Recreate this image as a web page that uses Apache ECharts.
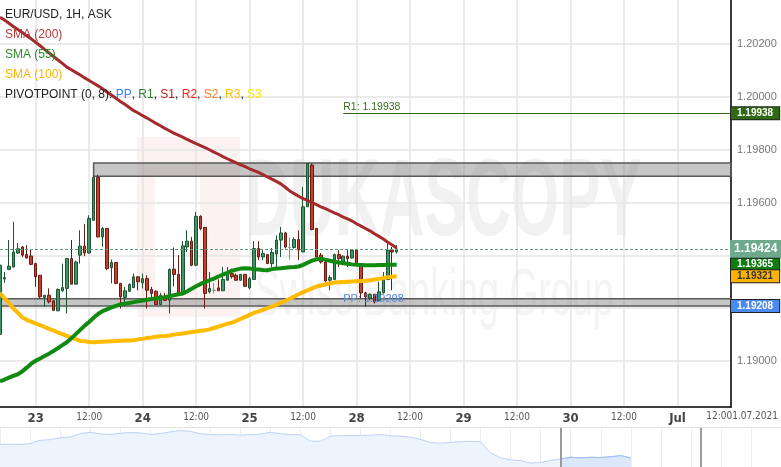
<!DOCTYPE html>
<html><head><meta charset="utf-8">
<script src="https://cdn.jsdelivr.net/npm/echarts@6/dist/echarts.min.js"></script>
<style>html,body{margin:0;padding:0;background:#fff}#c{width:781px;height:467px}</style>
</head><body><div id="c"></div>
<script>
// ---------- data ----------
const dayLabels = ['23','24','25','28','29','30','Jul'];
const leadHours = 8;            // hourly candles shown before the first day label
const lastTickLabel = '12:001.07.2021';
// [open, close, low, high]
const candles = [
[1.19101,1.19363,1.19079,1.19420],[1.19311,1.19316,1.19296,1.19337],[1.19347,1.19359,1.19344,1.19458],[1.19356,1.19413,1.19355,1.19527],
[1.19409,1.19425,1.19405,1.19446],[1.19432,1.19401,1.19394,1.19435],[1.19403,1.19390,1.19389,1.19439],[1.19398,1.19366,1.19363,1.19422],
[1.19369,1.19319,1.19281,1.19372],[1.19325,1.19243,1.19237,1.19325],[1.19241,1.19249,1.19205,1.19249],[1.19249,1.19224,1.19218,1.19275],
[1.19228,1.19192,1.19190,1.19230],[1.19190,1.19271,1.19190,1.19275],[1.19266,1.19278,1.19262,1.19369],[1.19275,1.19388,1.19180,1.19388],
[1.19388,1.19291,1.19291,1.19458],[1.19291,1.19375,1.19291,1.19380],[1.19401,1.19435,1.19369,1.19495],[1.19435,1.19409,1.19397,1.19518],
[1.19409,1.19540,1.19407,1.19552],[1.19533,1.19695,1.19533,1.19705],[1.19695,1.19470,1.19468,1.19705],[1.19470,1.19502,1.19432,1.19508],
[1.19502,1.19350,1.19344,1.19502],[1.19354,1.19373,1.19294,1.19384],[1.19373,1.19294,1.19291,1.19375],[1.19294,1.19243,1.19199,1.19296],
[1.19241,1.19266,1.19205,1.19281],[1.19264,1.19290,1.19262,1.19294],[1.19278,1.19319,1.19276,1.19331],[1.19319,1.19300,1.19268,1.19321],
[1.19296,1.19312,1.19275,1.19331],[1.19312,1.19268,1.19199,1.19325],[1.19271,1.19256,1.19241,1.19281],[1.19264,1.19214,1.19212,1.19268],
[1.19214,1.19249,1.19212,1.19258],[1.19245,1.19230,1.19228,1.19258],[1.19230,1.19347,1.19180,1.19350],[1.19348,1.19328,1.19283,1.19430],
[1.19328,1.19252,1.19249,1.19401],[1.19252,1.19436,1.19249,1.19454],[1.19432,1.19454,1.19413,1.19495],[1.19454,1.19363,1.19359,1.19470],
[1.19363,1.19548,1.19359,1.19565],[1.19548,1.19502,1.19495,1.19552],[1.19506,1.19256,1.19199,1.19508],[1.19262,1.19275,1.19256,1.19337],
[1.19268,1.19268,1.19256,1.19295],[1.19277,1.19266,1.19266,1.19309],[1.19266,1.19309,1.19266,1.19356],[1.19306,1.19331,1.19306,1.19356],
[1.19331,1.19319,1.19312,1.19350],[1.19325,1.19306,1.19303,1.19331],[1.19306,1.19328,1.19303,1.19330],[1.19328,1.19283,1.19281,1.19330],
[1.19277,1.19312,1.19271,1.19319],[1.19309,1.19426,1.19309,1.19454],[1.19426,1.19394,1.19382,1.19454],[1.19394,1.19407,1.19382,1.19420],
[1.19403,1.19369,1.19367,1.19405],[1.19369,1.19411,1.19356,1.19428],[1.19405,1.19458,1.19356,1.19476],[1.19458,1.19485,1.19394,1.19508],
[1.19485,1.19432,1.19426,1.19489],[1.19430,1.19430,1.19384,1.19468],[1.19430,1.19460,1.19426,1.19468],[1.19460,1.19420,1.19382,1.19495],
[1.19413,1.19584,1.19413,1.19659],[1.19584,1.19748,1.19584,1.19750],[1.19742,1.19498,1.19495,1.19748],[1.19502,1.19394,1.19392,1.19502],
[1.19401,1.19375,1.19369,1.19409],[1.19375,1.19303,1.19300,1.19382],[1.19306,1.19316,1.19268,1.19325],[1.19309,1.19403,1.19306,1.19407],
[1.19403,1.19388,1.19356,1.19420],[1.19375,1.19397,1.19369,1.19401],[1.19397,1.19388,1.19356,1.19420],[1.19390,1.19420,1.19388,1.19422],
[1.19420,1.19369,1.19367,1.19422],[1.19369,1.19258,1.19237,1.19369],[1.19258,1.19243,1.19205,1.19262],[1.19237,1.19253,1.19230,1.19256],
[1.19253,1.19224,1.19218,1.19253],[1.19228,1.19262,1.19224,1.19300],[1.19258,1.19309,1.19256,1.19337],[1.19309,1.19420,1.19306,1.19445],
[1.19420,1.19413,1.19268,1.19432],[1.19413,1.19424,1.19407,1.19439]
];
const sma200 = [
1.20302,1.20291,1.20279,1.20267,1.20255,1.20244,1.20232,1.20220,1.20207,1.20194,
1.20180,1.20167,1.20153,1.20140,1.20127,1.20113,1.20103,1.20093,1.20083,1.20072,
1.20062,1.20052,1.20042,1.20031,1.20019,1.20007,1.19995,1.19983,1.19972,1.19960,
1.19948,1.19939,1.19929,1.19920,1.19910,1.19900,1.19891,1.19881,1.19872,1.19863,
1.19855,1.19848,1.19839,1.19831,1.19823,1.19816,1.19808,1.19800,1.19791,1.19783,
1.19774,1.19766,1.19758,1.19750,1.19743,1.19736,1.19728,1.19721,1.19714,1.19706,
1.19697,1.19689,1.19680,1.19671,1.19658,1.19644,1.19634,1.19624,1.19615,1.19608,
1.19600,1.19592,1.19584,1.19577,1.19569,1.19561,1.19554,1.19545,1.19538,1.19530,
1.19520,1.19511,1.19502,1.19493,1.19482,1.19472,1.19462,1.19450,1.19439,1.19428];
const sma55 = [
1.18923,1.18930,1.18937,1.18944,1.18950,1.18961,1.18975,1.18990,1.19001,1.19010,
1.19019,1.19028,1.19038,1.19049,1.19060,1.19071,1.19086,1.19102,1.19118,1.19134,
1.19148,1.19164,1.19178,1.19189,1.19196,1.19203,1.19209,1.19214,1.19217,1.19220,
1.19223,1.19226,1.19229,1.19232,1.19235,1.19237,1.19240,1.19242,1.19245,1.19249,
1.19253,1.19256,1.19264,1.19274,1.19283,1.19292,1.19299,1.19306,1.19312,1.19320,
1.19327,1.19334,1.19342,1.19346,1.19350,1.19351,1.19350,1.19348,1.19347,1.19345,
1.19344,1.19348,1.19350,1.19351,1.19353,1.19355,1.19356,1.19358,1.19364,1.19372,
1.19380,1.19385,1.19387,1.19384,1.19380,1.19376,1.19373,1.19370,1.19368,1.19366,
1.19365,1.19364,1.19363,1.19363,1.19363,1.19364,1.19364,1.19365,1.19365,1.19365];
const sma100 = [
1.19257,1.19238,1.19220,1.19199,1.19183,1.19165,1.19156,1.19149,1.19142,1.19136,
1.19129,1.19122,1.19115,1.19108,1.19102,1.19095,1.19089,1.19083,1.19076,1.19075,
1.19072,1.19071,1.19072,1.19073,1.19074,1.19075,1.19076,1.19077,1.19078,1.19078,
1.19079,1.19082,1.19084,1.19087,1.19089,1.19092,1.19094,1.19095,1.19097,1.19100,
1.19102,1.19104,1.19107,1.19110,1.19112,1.19115,1.19117,1.19120,1.19125,1.19130,
1.19136,1.19141,1.19145,1.19152,1.19160,1.19167,1.19175,1.19183,1.19188,1.19194,
1.19200,1.19206,1.19213,1.19221,1.19228,1.19236,1.19244,1.19253,1.19261,1.19268,
1.19275,1.19282,1.19286,1.19290,1.19294,1.19297,1.19298,1.19299,1.19300,1.19301,
1.19302,1.19303,1.19304,1.19306,1.19309,1.19311,1.19314,1.19317,1.19319,1.19321];
const lastPrice = 1.19424;
const pivotPP = 1.19208;
const pivotR1 = 1.19938;
const pivotStartIndex = 77;
const zoneUpper = [1.19700, 1.19750], zoneUpperStart = 21;
const zoneLower = [1.19208, 1.19236], zoneLowerStart = 0;
const yMin = 1.18826, yMax = 1.20367;
// navigator (relative level of the overview line)
const navValues = [70,70,69,72,82,84,90,92,102,107,102,100,104,106,105,100,103,108,112,110,
102,100,99,100,98,100,101,107,102,100,99,80,79,95,96,97,97,98,100,96,
95,92,85,75,73,76,78,79,78,43,28,22,20,12,14,20,25,30,28,30,29,32,35,28];
const navSlots = 79, navWindow = [56, 70];

// ---------- build ----------
const cats = [];
const totalSlots = leadHours + 24 * (dayLabels.length - 1) + 12 + 1;
const lastIdx = totalSlots - 1;
for (let k = 0; k < totalSlots; k++) {
  if (k < leadHours) cats.push('pre|' + k);
  else { const i = Math.floor((k - leadHours) / 24), h = (k - leadHours) % 24; cats.push(dayLabels[i] + '|' + h); }
}
const isTick = i => i >= leadHours && (i - leadHours) % 12 === 0;
const navCats = Array.from({length: navSlots}, (_, i) => 'n' + i);
const F = 'Arial, "Liberation Sans", sans-serif';
const NARROW = '"Liberation Sans Narrow", "Arial Narrow", "DejaVu Sans Condensed", sans-serif';

function hline(value, extra) {
  return [Object.assign({coord: [0, value]}, extra), {coord: [lastIdx, value]}];
}
function tag(value, bg, fg, big) {
  return hline(value, {
    lineStyle: {color: 'rgba(0,0,0,0)', width: 1},
    label: {show: true, position: 'end', distance: 0, formatter: value.toFixed(5),
      backgroundColor: bg, color: fg, borderColor: big ? bg : '#222', borderWidth: 1,
      fontFamily: F, fontSize: big ? 12 : 10, fontWeight: 'bold',
      padding: big ? [2, 3, 1, 3] : [1, 6, 0, 6], lineHeight: big ? 13 : 11}
  });
}

const chart = echarts.init(document.getElementById('c'));
chart.setOption({
  animation: false,
  grid: [{left: 0, right: 50, top: 0, bottom: 60}, {left: 0, right: 0, top: 428, bottom: 0}],
  xAxis: [{
    type: 'category', data: cats, boundaryGap: false,
    axisLine: {lineStyle: {color: '#000', width: 1.5}}, axisTick: {show: false},
    axisLabel: {interval: i => isTick(i) && i !== lastIdx, margin: 5,
      formatter: v => { const p = v.split('|'); return p[1] === '0' ? '{d|' + p[0] + '}' : '{h|12:00}'; },
      rich: {d: {fontFamily: NARROW, fontSize: 13, fontWeight: 'bold', color: '#444'},
             h: {fontFamily: NARROW, fontSize: 10, color: '#555'}}},
    splitLine: {show: true, interval: i => isTick(i), lineStyle: {color: '#e4e4e4', width: 1.5}}
  }, {
    type: 'category', gridIndex: 1, data: navCats, boundaryGap: false,
    axisLine: {show: false}, axisTick: {show: false}, axisLabel: {show: false},
    splitLine: {show: true, interval: 2, lineStyle: {color: '#ececec'}}
  }],
  yAxis: [{
    type: 'value', position: 'right', min: yMin, max: yMax, minInterval: 0.002, maxInterval: 0.002,
    axisLine: {show: true, lineStyle: {color: '#000', width: 1.5}}, axisTick: {show: false},
    axisLabel: {color: '#777', fontSize: 11, fontFamily: F, margin: 6, showMinLabel: false, showMaxLabel: false,
      formatter: v => v.toFixed(5)},
    splitLine: {lineStyle: {color: '#e4e4e4', width: 1.5}, showMinLine: false, showMaxLine: false}
  }, {type: 'value', gridIndex: 1, min: 0, max: 120, show: false}],
  series: [
    {type: 'candlestick', data: candles, barWidth: 3, z: 3,
      itemStyle: {color: '#3f9563', color0: '#c63e2d', borderColor: '#1d5433', borderColor0: '#6a1b12',
        borderColorDoji: '#8a8a8a', borderWidth: 1}},
    {type: 'line', name: 'SMA (200)', data: sma200, showSymbol: false, z: 4, lineStyle: {color: '#a52a2a', width: 3}},
    {type: 'line', name: 'SMA (100)', data: sma100, showSymbol: false, z: 4, lineStyle: {color: '#ffbb00', width: 4}},
    {type: 'line', name: 'SMA (55)', data: sma55, showSymbol: false, z: 4, lineStyle: {color: '#108a10', width: 4}},
    {type: 'line', data: [], z: 5, silent: true,
      markArea: {silent: true, itemStyle: {color: 'rgba(120,120,120,0.42)', borderColor: '#5a5a5a', borderWidth: 1.5},
        data: [[{coord: [zoneUpperStart, zoneUpper[1]]}, {coord: [lastIdx, zoneUpper[0]]}],
               [{coord: [zoneLowerStart, zoneLower[1]]}, {coord: [lastIdx, zoneLower[0]]}]]}},
    {type: 'line', data: [], z: 6, silent: true,
      markLine: {silent: true, symbol: 'none', animation: false,
        data: [
          hline(lastPrice, {lineStyle: {color: '#5f9c7f', type: [3, 2], width: 1}, label: {show: false}}),
          [{coord: [pivotStartIndex, pivotR1], lineStyle: {color: '#2f6a12', width: 1, type: 'solid'},
            label: {show: true, position: 'insideStartTop', distance: [0, 1], formatter: 'R1: ' + pivotR1.toFixed(5),
              color: '#3b6e1e', fontSize: 10.5, fontFamily: F}},
           {coord: [lastIdx, pivotR1]}],
          [{coord: [pivotStartIndex, pivotPP], lineStyle: {color: 'rgba(0,0,0,0)', width: 1, type: 'solid'},
            label: {show: true, position: 'insideStartTop', distance: [0, 2], formatter: 'PP: ' + pivotPP.toFixed(5),
              color: '#5b8ad8', fontSize: 11, fontFamily: F}},
           {coord: [lastIdx, pivotPP]}]
        ]}},
    {type: 'line', data: [], z: 10, silent: true,
      markLine: {silent: true, symbol: 'none', animation: false,
        data: [tag(pivotR1, '#2f6a12', '#fff'), tag(lastPrice, '#6da98b', '#fff', true),
               tag(sma55[sma55.length - 1], '#0e7c0e', '#fff'), tag(sma100[sma100.length - 1], '#ffb300', '#333'),
               tag(pivotPP, '#4a8af4', '#fff')]}},
    {type: 'line', xAxisIndex: 1, yAxisIndex: 1, data: navValues, showSymbol: false, silent: true,
      lineStyle: {color: '#bcd2f5', width: 1}, areaStyle: {color: '#eef4fd', opacity: 1},
      markLine: {silent: true, symbol: 'none', label: {show: false},
        lineStyle: {color: '#9a9a9a', width: 2, type: 'solid'},
        data: [{xAxis: navWindow[0]}, {xAxis: navWindow[1]}]}},
    {type: 'line', xAxisIndex: 1, yAxisIndex: 1, data: navValues.map((v, i) => i >= navWindow[0] ? v : '-'),
      showSymbol: false, silent: true, lineStyle: {color: '#9dbbf0', width: 1}, areaStyle: {color: '#dbe7fb', opacity: 1}}
  ],
  graphic: [
    // watermark
    {type: 'rect', z: -20, shape: {x: 137, y: 137, width: 103, height: 180}, style: {fill: '#fdf2f2'}},
    {type: 'rect', z: -19, shape: {x: 155, y: 175, width: 45, height: 115}, style: {fill: '#fff'}},
    {type: 'text', z: -18, x: 245, y: 150, scaleX: 0.57,
      style: {text: 'DUKASCOPY', font: 'bold 109px ' + F, fill: '#f1f1f1'}},
    {type: 'text', z: -18, x: 255, y: 263, scaleX: 0.56,
      style: {text: 'Swiss Banking Group', font: '67px ' + F, fill: '#f4f4f4'}},
    // nav top border
    {type: 'line', shape: {x1: 0, y1: 427.5, x2: 781, y2: 427.5}, style: {stroke: '#e2e2e2', lineWidth: 1}},
    // last tick label with date
    {type: 'text', x: 778, y: 411, style: {text: lastTickLabel, font: '10px ' + NARROW, fill: '#555', align: 'right'}},
    // legend
    {type: 'text', z: 100, left: 5, top: 9, style: {text: 'EUR/USD, 1H, ASK', font: '12px ' + F, fill: '#222'}},
    {type: 'text', z: 100, left: 5, top: 29, style: {text: 'SMA (200)', font: '12px ' + F, fill: '#b33a3a'}},
    {type: 'text', z: 100, left: 5, top: 49, style: {text: 'SMA (55)', font: '12px ' + F, fill: '#2e8b2e'}},
    {type: 'text', z: 100, left: 5, top: 69, style: {text: 'SMA (100)', font: '12px ' + F, fill: '#ffb300'}},
    {type: 'text', z: 100, left: 5, top: 89, style: {
      text: 'PIVOTPOINT (0, 8): {pp|PP}, {r1|R1}, {s1|S1}, {r2|R2}, {s2|S2}, {r3|R3}, {s3|S3}',
      font: '12px ' + F, fill: '#222',
      rich: {pp: {fill: '#3f7fe8', font: '12px ' + F}, r1: {fill: '#2e7d32', font: '12px ' + F},
             s1: {fill: '#b22222', font: '12px ' + F}, r2: {fill: '#ff2020', font: '12px ' + F},
             s2: {fill: '#ff7f27', font: '12px ' + F}, r3: {fill: '#ffbf00', font: '12px ' + F},
             s3: {fill: '#f2e600', font: '12px ' + F}}}}
  ]
});
</script></body></html>
